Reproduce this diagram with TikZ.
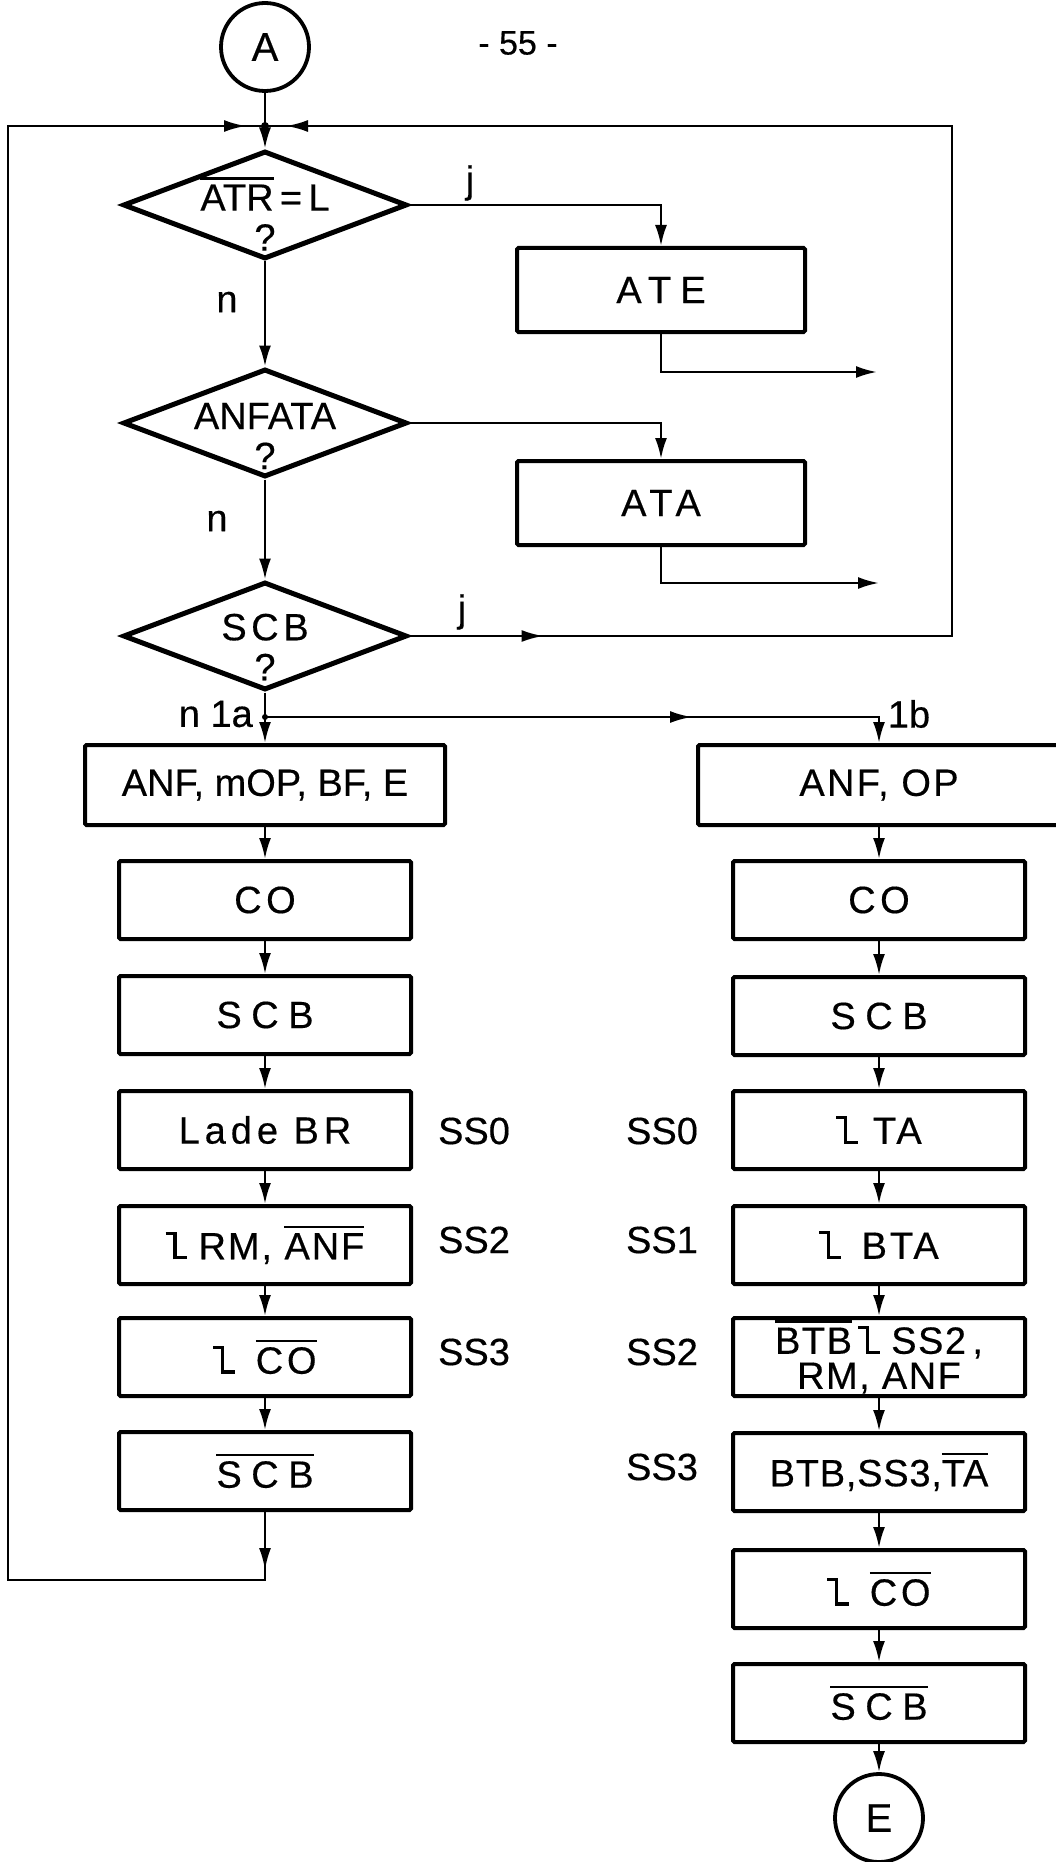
\documentclass[tikz,border=0pt]{standalone}
\usepackage{fontspec}
\setmainfont{Liberation Sans}[FakeBold=0.4]
\usetikzlibrary{arrows.meta,shapes.geometric,decorations.markings}
\newcommand\bx{\fontsize{38pt}{40pt}\selectfont}
\newcommand\lsp[2]{{\addfontfeature{LetterSpace=#1}#2}}
\newcommand\ovl[1]{{\setbox0\hbox{#1}\rlap{\rule[\dimexpr\ht0+5pt\relax]{\wd0}{2.2pt}}\box0}}
\newcommand\lsym{\mbox{\rule[0.64em]{0.2em}{0.085em}\rule{0.085em}{0.725em}\rule{0.28em}{0.085em}}}
\begin{document}
\begin{tikzpicture}[x=1pt,y=-1pt,
  box/.style={draw, line width=4pt, rounded corners=1.5pt, minimum width=292pt, minimum height=78pt, inner sep=0pt, font=\bx},
  dia/.style={draw, diamond, line width=5pt, minimum width=284pt, minimum height=108pt, inner sep=0pt},
  dtxt/.style={align=center, font=\bx, inner sep=0pt},
  lbl/.style={font=\bx, inner sep=0pt},
  term/.style={draw, circle, line width=3.8pt, minimum size=88pt, inner sep=0pt, font=\fontsize{40pt}{40pt}\selectfont},
  conn/.style={line width=2.5pt},
  arr/.style={conn, -{Latex[length=21pt,width=12pt]}},
  arrowat/.style={postaction={decorate, decoration={markings, mark=at position #1 with {\arrow{Latex[length=22pt,width=12pt]}}}}}
]
\useasboundingbox (0,0) rectangle (1056,1862);

% top
\node[term] (A) at (265,47) {A};
\node[font=\fontsize{34pt}{34pt}\selectfont, inner sep=0pt] (page) at (518,43) {- 55 -};
\coordinate (J) at (265,126);
\coordinate (R2) at (952,126);
\coordinate (L1) at (265,1580);
\coordinate (L2) at (8,1580);
\coordinate (L3) at (8,126);

% decisions
\node[dia] (d1) at (265,205) {};
\node[dtxt] (t1) at (265,214) {\ovl{ATR}\,=\,L\\?};
\node[dia] (d2) at (265,423) {};
\node[dtxt] (t2) at (265,436) {ANFATA\\?};
\node[dia] (d3) at (265,636) {};
\node[dtxt] (t3) at (265,647) {\lsp{12}{SCB}\\?};

\node[box, minimum width=288pt, minimum height=84pt] (ate) at (661,290) {\lsp{24}{ATE}};
\node[box, minimum width=288pt, minimum height=84pt] (ata) at (661,503) {\lsp{15}{ATA}};
\coordinate (ateout) at (877,372);
\coordinate (ataout) at (879,583);

\node[lbl] (j1) at (470,183) {j};
\node[lbl] (n1) at (227,302) {n};
\node[lbl] (n2) at (217,521) {n};
\node[lbl] (j2) at (462,612) {j};

\coordinate (S) at (265,717);
\node[lbl, anchor=east] (n3) at (253,714) {n 1a};
\node[lbl] (b1) at (909,714) {1b};

% left column
\node[box, minimum width=360pt, minimum height=80pt] (anfL) at (265,785) {ANF, mOP, BF, E};
\node[box] (coL) at (265,900) {\lsp{12}{CO}};
\node[box] (scbL) at (265,1015) {\lsp{25}{SCB}};
\node[box] (ladeL) at (265,1130) {\lsp{13}{Lade BR}};
\node[box] (rmL) at (265,1245) {\lsym\hspace{0.3em}\lsp{5}{RM, \ovl{ANF}}};
\node[box] (lcoL) at (265,1357) {\lsym\hspace{0.55em}\ovl{\lsp{10}{CO}}};
\node[box] (nscbL) at (265,1471) {\ovl{\lsp{25}{SCB}}};

\node[lbl] (ssl0) at (474,1131) {SS0};
\node[lbl] (ssl2) at (474,1240) {SS2};
\node[lbl] (ssl3) at (474,1352) {SS3};

% right column
\node[box, minimum width=362pt, minimum height=80pt] (anfR) at (879,785) {\lsp{6}{ANF, OP}};
\node[box] (coR) at (879,900) {\lsp{12}{CO}};
\node[box] (scbR) at (879,1016) {\lsp{25}{SCB}};
\node[box] (taR) at (879,1130) {\lsym\hspace{0.4em}\lsp{8}{TA}};
\node[box] (btaR) at (879,1245) {\lsym\hspace{0.55em}\lsp{8}{BTA}};
\node[box, align=center, font=\fontsize{38pt}{35pt}\selectfont] (btbR) at (879,1357) {\ovl{\lsp{4}{BTB}}\,\lsym\hspace{0.3em}\lsp{4}{SS2\,,}\\\lsp{4}{RM, ANF}};
\node[box] (ss3R) at (879,1472) {\lsp{2}{BTB,SS3,\ovl{TA}}};
\node[box] (lcoR) at (879,1589) {\lsym\hspace{0.55em}\ovl{\lsp{10}{CO}}};
\node[box] (nscbR) at (879,1703) {\ovl{\lsp{25}{SCB}}};
\node[term] (E) at (879,1818) {E};

\node[lbl] (ssr0) at (662,1131) {SS0};
\node[lbl] (ssr1) at (662,1240) {SS1};
\node[lbl] (ssr2) at (662,1352) {SS2};
\node[lbl] (ssr3) at (662,1467) {SS3};

% connectors
\draw[conn] (A) -- (J);
\fill (J) circle (4pt);
\draw[arr] (J) -- (d1.north);
\draw[arr] (d1.east) -| (ate.north);
\draw[arr] (ate.south) |- (ateout);
\draw[arr] (d1.south) -- (d2.north);
\draw[arr] (d2.east) -| (ata.north);
\draw[arr] (ata.south) |- (ataout);
\draw[arr] (d2.south) -- (d3.north);
\draw[conn, arrowat=134pt, arrowat=-21pt] (d3.east) -- (d3.east -| R2) -- (R2) -- (J);
\draw[conn] (d3.south) -- (S);
\fill (S) circle (3pt);
\draw[arr] (S) -- (anfL.north);
\draw[arr, arrowat=427pt] (S) -| (anfR.north);

\draw[arr] (anfL) -- (coL);
\draw[arr] (coL) -- (scbL);
\draw[arr] (scbL) -- (ladeL);
\draw[arr] (ladeL) -- (rmL);
\draw[arr] (rmL) -- (lcoL);
\draw[arr] (lcoL) -- (nscbL);
\draw[conn, arrowat=58pt, arrowat=-19pt] (nscbL.south) -- (L1) -- (L2) -- (L3) -- (J);

\draw[arr] (anfR) -- (coR);
\draw[arr] (coR) -- (scbR);
\draw[arr] (scbR) -- (taR);
\draw[arr] (taR) -- (btaR);
\draw[arr] (btaR) -- (btbR);
\draw[arr] (btbR) -- (ss3R);
\draw[arr] (ss3R) -- (lcoR);
\draw[arr] (lcoR) -- (nscbR);
\draw[arr] (nscbR) -- (E);
\end{tikzpicture}
\end{document}
